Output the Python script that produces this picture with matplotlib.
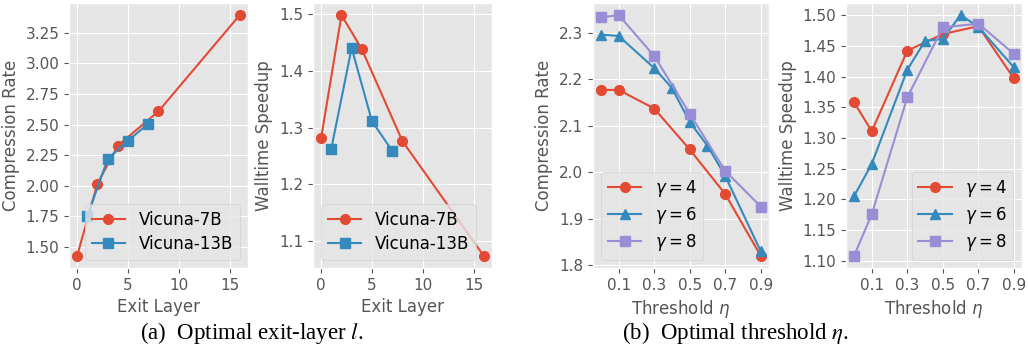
import numpy as np
import matplotlib
matplotlib.use('Agg')
import matplotlib.pyplot as plt

plt.style.use('ggplot')
plt.rcParams['mathtext.fontset'] = 'dejavusans'

# (a) exit layer sweep
layer_7b = [0, 2, 4, 8, 16]
comp_7b = [1.428, 2.018, 2.328, 2.608, 3.394]
speed_7b = [1.282, 1.498, 1.438, 1.276, 1.074]
layer_13b = [1, 3, 5, 7]
comp_13b = [1.751, 2.218, 2.368, 2.507]
speed_13b = [1.263, 1.440, 1.311, 1.259]

# (b) threshold sweep
eta_4 = [0.0, 0.1, 0.3, 0.5, 0.7, 0.9]
comp_g4 = [2.177, 2.177, 2.137, 2.049, 1.953, 1.820]
speed_g4 = [1.358, 1.311, 1.442, 1.469, 1.482, 1.397]
eta_6 = [0.0, 0.1, 0.3, 0.4, 0.5, 0.6, 0.7, 0.9]
comp_g6 = [2.296, 2.293, 2.224, 2.181, 2.108, 2.057, 1.992, 1.830]
speed_g6 = [1.205, 1.258, 1.411, 1.458, 1.461, 1.500, 1.481, 1.415]
eta_8 = [0.0, 0.1, 0.3, 0.5, 0.7, 0.9]
comp_g8 = [2.333, 2.338, 2.250, 2.126, 2.003, 1.926]
speed_g8 = [1.108, 1.176, 1.366, 1.480, 1.486, 1.437]
eta_ticks = [0.1, 0.3, 0.5, 0.7, 0.9]

c_red, c_blue, c_purple = '#E24A33', '#348ABD', '#988ED5'
lw, ms = 1.5, 7
tick_fs, label_fs, leg_fs = 11, 12, 12

fig = plt.figure(figsize=(10.28, 3.6), dpi=100)
bot, h = 0.2556, 0.736
ax1 = fig.add_axes([0.0671, bot, 0.174, h])
ax2 = fig.add_axes([0.3045, bot, 0.174, h])
ax3 = fig.add_axes([0.5768, bot, 0.171, h])
ax4 = fig.add_axes([0.8230, bot, 0.171, h])

leg_kw = dict(fontsize=leg_fs, handlelength=2.0, labelspacing=0.35,
              borderpad=0.4)

# ---- panel (a) ----
ax1.plot(layer_7b, comp_7b, '-o', color=c_red, lw=lw, ms=ms, label='Vicuna-7B')
ax1.plot(layer_13b, comp_13b, '-s', color=c_blue, lw=lw, ms=ms, label='Vicuna-13B')
ax1.set_ylabel('Compression Rate', fontsize=label_fs)
ax1.set_yticks([1.50, 1.75, 2.00, 2.25, 2.50, 2.75, 3.00, 3.25])
ax1.legend(loc='lower right', **leg_kw)

ax2.plot(layer_7b, speed_7b, '-o', color=c_red, lw=lw, ms=ms, label='Vicuna-7B')
ax2.plot(layer_13b, speed_13b, '-s', color=c_blue, lw=lw, ms=ms, label='Vicuna-13B')
ax2.set_ylabel('Walltime Speedup', fontsize=label_fs)
ax2.set_yticks([1.1, 1.2, 1.3, 1.4, 1.5])
ax2.legend(loc='lower left', **leg_kw)

for ax in (ax1, ax2):
    ax.set_xlabel('Exit Layer', fontsize=label_fs)
    ax.set_xticks([0, 5, 10, 15])

# ---- panel (b) ----
ax3.plot(eta_4, comp_g4, '-o', color=c_red, lw=lw, ms=ms, label=r'$\gamma = 4$')
ax3.plot(eta_6, comp_g6, '-^', color=c_blue, lw=lw, ms=ms, label=r'$\gamma = 6$')
ax3.plot(eta_8, comp_g8, '-s', color=c_purple, lw=lw, ms=ms, label=r'$\gamma = 8$')
ax3.set_ylabel('Compression Rate', fontsize=label_fs)
ax3.set_yticks([1.8, 1.9, 2.0, 2.1, 2.2, 2.3])
ax3.legend(loc='lower left', **leg_kw)

ax4.plot(eta_4, speed_g4, '-o', color=c_red, lw=lw, ms=ms, label=r'$\gamma = 4$')
ax4.plot(eta_6, speed_g6, '-^', color=c_blue, lw=lw, ms=ms, label=r'$\gamma = 6$')
ax4.plot(eta_8, speed_g8, '-s', color=c_purple, lw=lw, ms=ms, label=r'$\gamma = 8$')
ax4.set_ylabel('Walltime Speedup', fontsize=label_fs)
ax4.set_yticks([1.10, 1.15, 1.20, 1.25, 1.30, 1.35, 1.40, 1.45, 1.50])
ax4.legend(loc='lower right', **leg_kw)

for ax in (ax3, ax4):
    ax.set_xlabel(r'Threshold $\eta$', fontsize=label_fs)
    ax.set_xticks(eta_ticks)

for ax in (ax1, ax2, ax3, ax4):
    ax.tick_params(labelsize=tick_fs)
    ax.xaxis.label.set_color('#555555')
    ax.yaxis.label.set_color('#555555')

# captions
cap_kw = dict(ha='center', va='center', fontsize=16.5, family='Liberation Serif',
              math_fontfamily='stix')
fig.text(0.245, 0.075, r'(a)  Optimal exit-layer $l$.', **cap_kw)
fig.text(0.715, 0.075, r'(b)  Optimal threshold $\eta$.', **cap_kw)

fig.savefig('out.png', dpi=100)
